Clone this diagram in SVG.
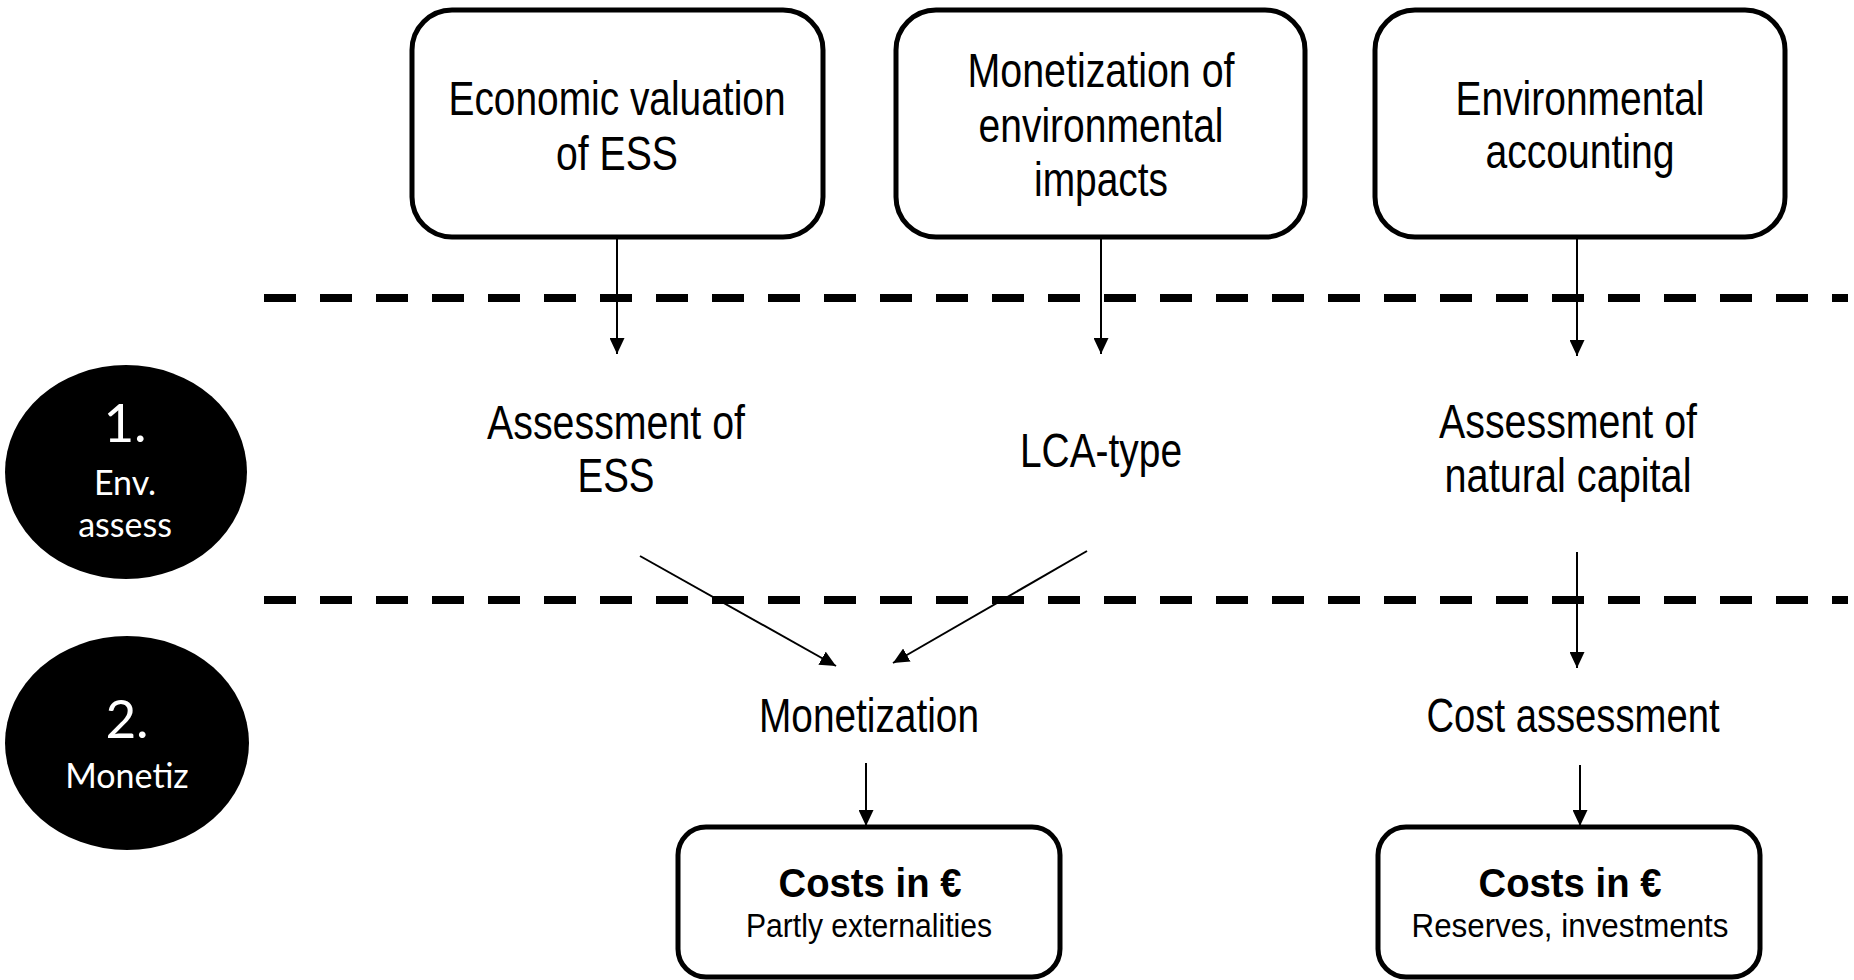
<svg xmlns="http://www.w3.org/2000/svg" width="1854" height="980" viewBox="0 0 1854 980">
<style>
.box{fill:#fff;stroke:#000;stroke-width:5}
.t{font-family:"Liberation Sans Narrow","Arial Narrow","Liberation Sans",sans-serif;font-size:48px;fill:#000;text-anchor:middle}
.b{font-weight:bold;font-size:40px}
.s{font-size:33px}
.circ{fill:#000}
.ct{font-family:Lato,"Open Sans",sans-serif;fill:#fff;text-anchor:middle}
.dash{stroke:#000;stroke-width:8;stroke-dasharray:32 24;fill:none}
.conn{stroke:#000;stroke-width:2;fill:none;marker-end:url(#ah)}
</style>
<defs>
<marker id="ah" markerWidth="16" markerHeight="15" refX="16" refY="7.5" orient="auto" markerUnits="userSpaceOnUse"><path d="M0,0 L16,7.5 L0,15 Z" fill="#000"/></marker>
</defs>
<g id="separators">
<line class="dash" x1="264" y1="298" x2="1848" y2="298"/>
<line class="dash" x1="264" y1="600" x2="1848" y2="600"/>
</g>
<g id="step1"><ellipse class="circ" cx="126" cy="472" rx="121" ry="107"/>
<text class="ct" x="125" y="442" font-size="53">1.</text>
<text class="ct" x="125" y="495" font-size="34">Env.</text>
<text class="ct" x="125" y="537" font-size="34">assess</text></g>
<g id="step2"><ellipse class="circ" cx="127" cy="743" rx="122" ry="107"/>
<text class="ct" x="127" y="738" font-size="53">2.</text>
<text class="ct" x="127" y="788" font-size="34">Monetiz</text></g>
<g id="econ-valuation"><rect class="box" x="412" y="10" width="411" height="227" rx="40"/>
<text class="t" x="617" y="115" textLength="337" lengthAdjust="spacingAndGlyphs">Economic valuation</text>
<text class="t" x="617" y="170" textLength="122" lengthAdjust="spacingAndGlyphs">of ESS</text></g>
<g id="monetization-impacts"><rect class="box" x="896" y="10" width="409" height="227" rx="40"/>
<text class="t" x="1101" y="87" textLength="267" lengthAdjust="spacingAndGlyphs">Monetization of</text>
<text class="t" x="1101" y="142" textLength="245" lengthAdjust="spacingAndGlyphs">environmental</text>
<text class="t" x="1101" y="196" textLength="134" lengthAdjust="spacingAndGlyphs">impacts</text></g>
<g id="env-accounting"><rect class="box" x="1375" y="10" width="410" height="227" rx="40"/>
<text class="t" x="1580" y="115" textLength="249" lengthAdjust="spacingAndGlyphs">Environmental</text>
<text class="t" x="1580" y="168" textLength="189" lengthAdjust="spacingAndGlyphs">accounting</text></g>
<g id="assess-ess"><text class="t" x="616" y="439" textLength="258" lengthAdjust="spacingAndGlyphs">Assessment of</text>
<text class="t" x="616" y="492" textLength="77" lengthAdjust="spacingAndGlyphs">ESS</text></g>
<g id="lca-type"><text class="t" x="1101" y="467" textLength="162" lengthAdjust="spacingAndGlyphs">LCA-type</text></g>
<g id="assess-natural"><text class="t" x="1568" y="438" textLength="258" lengthAdjust="spacingAndGlyphs">Assessment of</text>
<text class="t" x="1568" y="492" textLength="247" lengthAdjust="spacingAndGlyphs">natural capital</text></g>
<g id="monetization"><text class="t" x="869" y="732" textLength="220" lengthAdjust="spacingAndGlyphs">Monetization</text></g>
<g id="cost-assessment"><text class="t" x="1573" y="732" textLength="293" lengthAdjust="spacingAndGlyphs">Cost assessment</text></g>
<g id="costs-1"><rect class="box" x="678" y="827" width="382" height="150" rx="28"/>
<text class="t b" x="870" y="897" textLength="183" lengthAdjust="spacingAndGlyphs">Costs in €</text>
<text class="t s" x="869" y="937" textLength="246" lengthAdjust="spacingAndGlyphs">Partly externalities</text></g>
<g id="costs-2"><rect class="box" x="1378" y="827" width="382" height="150" rx="28"/>
<text class="t b" x="1570" y="897" textLength="183" lengthAdjust="spacingAndGlyphs">Costs in €</text>
<text class="t s" x="1570" y="937" textLength="317" lengthAdjust="spacingAndGlyphs">Reserves, investments</text></g>
<g id="connectors">
<line class="conn" x1="617" y1="239" x2="617" y2="354"/>
<line class="conn" x1="1101" y1="239" x2="1101" y2="354"/>
<line class="conn" x1="1577" y1="239" x2="1577" y2="356"/>
<line class="conn" x1="640" y1="556" x2="836" y2="666"/>
<line class="conn" x1="1087" y1="551" x2="893" y2="663"/>
<line class="conn" x1="1577" y1="552" x2="1577" y2="668"/>
<line class="conn" x1="866" y1="763" x2="866" y2="826"/>
<line class="conn" x1="1580" y1="765" x2="1580" y2="826"/>
</g>
</svg>
